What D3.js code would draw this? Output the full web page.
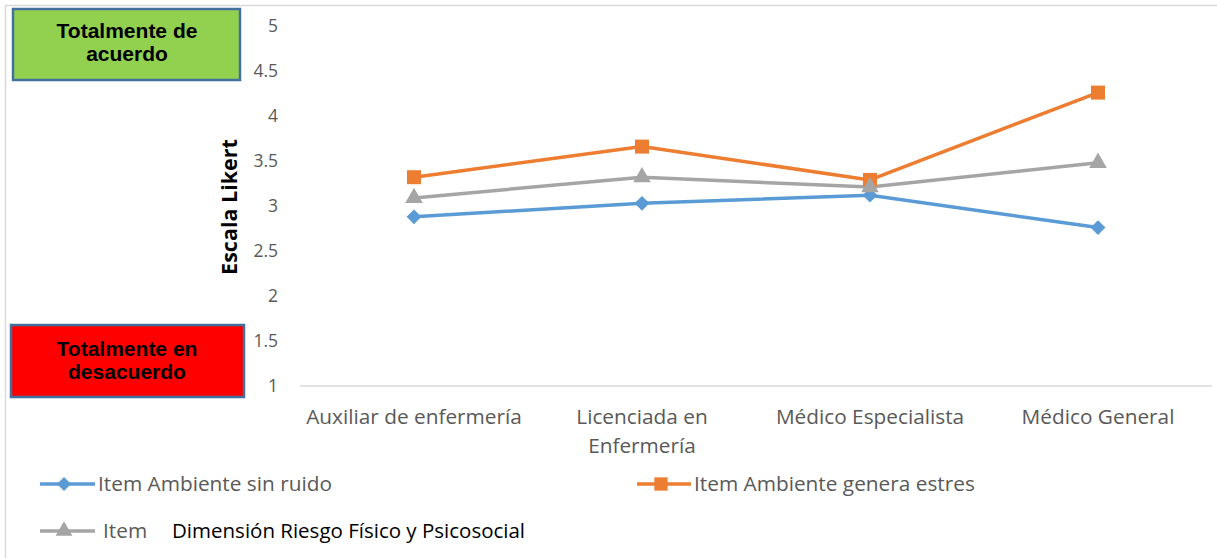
<!DOCTYPE html>
<html>
<head>
<meta charset="utf-8">
<script src="https://cdn.jsdelivr.net/npm/d3@7"></script>
<style>
  html, body { margin: 0; padding: 0; background: #fff; }
  svg { display: block; }
</style>
</head>
<body>
<svg id="chart" width="1217" height="558"></svg>
<script>
// Job categories on the x axis
const categories = ["Auxiliar de enfermería", "Licenciada en\nEnfermería", "Médico Especialista", "Médico General"];

// Mean Likert scores per item
const sinRuido = [2.88, 3.03, 3.12, 2.76];
const generaEstres = [3.32, 3.66, 3.29, 4.26];
const dimension = [3.09, 3.32, 3.21, 3.48];

const yTicks = [1, 1.5, 2, 2.5, 3, 3.5, 4, 4.5, 5];
const yTickLabels = ["1", "1.5", "2", "2.5", "3", "3.5", "4", "4.5", "5"];

const diamond = { draw(ctx, size) { const r = Math.sqrt(size) / 2 * Math.SQRT2;
  ctx.moveTo(0, -r); ctx.lineTo(r, 0); ctx.lineTo(0, r); ctx.lineTo(-r, 0); ctx.closePath(); } };

const series = [
  { name: "Item Ambiente sin ruido", values: sinRuido, color: "#5b9bd5", symbol: diamond, size: 110 },
  { name: "Item Ambiente genera estres", values: generaEstres, color: "#ed7d31", symbol: d3.symbolSquare, size: 196 },
  { name: "Item", values: dimension, color: "#a5a5a5", symbol: d3.symbolTriangle, size: 135 }
];

const font = "'Open Sans', sans-serif";
const svg = d3.select("#chart");

// chart frame
svg.append("path")
  .attr("d", "M5.5,558 V5.5 H1217")
  .attr("fill", "none").attr("stroke", "#d9d9d9").attr("stroke-width", 1.5);

const plot = { left: 300, right: 1212, top: 26, bottom: 386 };

const x = d3.scaleBand().domain(d3.range(categories.length))
  .range([plot.left, plot.right]).paddingInner(0).paddingOuter(0);
const y = d3.scaleLinear().domain([1, 5]).range([plot.bottom, plot.top]);
const cx = i => x(i) + x.bandwidth() / 2;

// x axis line
svg.append("line")
  .attr("x1", plot.left).attr("x2", plot.right)
  .attr("y1", y(1)).attr("y2", y(1))
  .attr("stroke", "#d9d9d9").attr("stroke-width", 1.5);

// y tick labels
const yAxis = d3.axisLeft(y).tickValues(yTicks)
  .tickFormat((d, i) => yTickLabels[i]).tickSize(0).tickPadding(0);
const gy = svg.append("g").attr("transform", "translate(278,0)").call(yAxis);
gy.select(".domain").remove();
gy.selectAll("text")
  .attr("font-family", font).attr("font-size", 17.5).attr("fill", "#595959");

// y axis title
svg.append("text")
  .attr("transform", "translate(237,207) rotate(-90)")
  .attr("text-anchor", "middle")
  .attr("font-family", font).attr("font-weight", "bold").attr("font-size", 21.5)
  .attr("fill", "#000").text("Escala Likert");

// x category labels
const xl = svg.append("g");
categories.forEach((c, i) => {
  const t = xl.append("text")
    .attr("text-anchor", "middle")
    .attr("font-family", font).attr("font-size", 20.8).attr("fill", "#595959");
  c.split("\n").forEach((line, j) => {
    t.append("tspan").attr("x", cx(i)).attr("y", 424 + j * 29).text(line);
  });
});

// lines and markers
const line = d3.line().x((d, i) => cx(i)).y(d => y(d));
series.forEach(s => {
  svg.append("path")
    .datum(s.values)
    .attr("d", line)
    .attr("fill", "none").attr("stroke", s.color)
    .attr("stroke-width", 3.5).attr("stroke-linejoin", "round");
});
series.forEach(s => {
  svg.append("g").selectAll("path")
    .data(s.values)
    .join("path")
    .attr("transform", (d, i) => `translate(${cx(i)},${y(d)})`)
    .attr("d", d3.symbol().type(s.symbol).size(s.size))
    .attr("fill", s.color);
});

// legend
const legendItems = [
  { s: series[0], x: 40, w: 55, mx: 64, y: 484, tx: 98 },
  { s: series[1], x: 637, w: 54, mx: 661, y: 484, tx: 694 },
  { s: series[2], x: 40, w: 55, mx: 64, y: 531, tx: 103 }
];
legendItems.forEach(li => {
  const g = svg.append("g");
  g.append("line")
    .attr("x1", li.x).attr("x2", li.x + li.w)
    .attr("y1", li.y).attr("y2", li.y)
    .attr("stroke", li.s.color).attr("stroke-width", 3.5);
  g.append("path")
    .attr("transform", `translate(${li.mx},${li.y})`)
    .attr("d", d3.symbol().type(li.s.symbol).size(li.s.size * 0.9))
    .attr("fill", li.s.color);
  g.append("text")
    .attr("x", li.tx).attr("y", li.y + 7)
    .attr("font-family", font).attr("font-size", 20.8).attr("fill", "#595959")
    .text(li.s.name);
});
svg.append("text")
  .attr("x", 172).attr("y", 538)
  .attr("font-family", font).attr("font-size", 20.5).attr("fill", "#000")
  .text("Dimensión Riesgo Físico y Psicosocial");

// scale anchor boxes
const boxes = [
  { x: 13, y: 9, w: 227, h: 71, fill: "#92d050", lines: ["Totalmente de", "acuerdo"], ty: 38 },
  { x: 11, y: 325, w: 233, h: 72, fill: "#ff0000", lines: ["Totalmente en", "desacuerdo"], ty: 356 }
];
boxes.forEach(b => {
  svg.append("rect")
    .attr("x", b.x).attr("y", b.y).attr("width", b.w).attr("height", b.h)
    .attr("fill", b.fill).attr("stroke", "#41719c").attr("stroke-width", 2.5);
  const t = svg.append("text")
    .attr("text-anchor", "middle")
    .attr("font-family", "'Liberation Sans', Arial, sans-serif")
    .attr("font-weight", "bold").attr("font-size", 21).attr("fill", "#000");
  b.lines.forEach((l, j) => {
    t.append("tspan").attr("x", 127).attr("y", b.ty + j * 23).text(l);
  });
});
</script>
</body>
</html>
